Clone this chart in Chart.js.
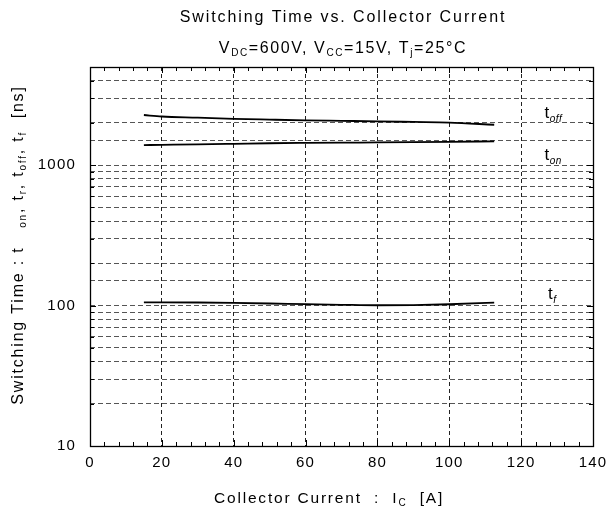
<!DOCTYPE html>
<html>
<head>
<meta charset="utf-8">
<script src="https://cdn.jsdelivr.net/npm/chart.js@4.4.1/dist/chart.umd.min.js"></script>
<style>
  html, body { margin: 0; padding: 0; background: #fff; }
  canvas { display: block; }
</style>
</head>
<body>
<canvas id="c" width="608" height="518"></canvas>
<script>
// ---- data ----
const currentA = [15, 20, 30, 40, 50, 60, 70, 80, 90, 100, 112.5];
const tOff = [2276, 2220, 2180, 2138, 2110, 2085, 2068, 2051, 2030, 2009, 1940];
const tOn  = [1390, 1395, 1405, 1418, 1432, 1440, 1446, 1451, 1458, 1466, 1477];
const tF   = [105.5, 105.5, 105.2, 104.5, 103.5, 102.3, 101.3, 100.5, 100.8, 102.2, 105.0];
const xTicks = [0, 20, 40, 60, 80, 100, 120, 140];
const yTickLabels = [10, 100, 1000];
const curveLabels = [
  { main: 't', sub: 'off', x: 126.5, y: 2166 },
  { main: 't', sub: 'on',  x: 126.5, y: 1086 },
  { main: 't', sub: 'f',   x: 127.5, y: 112 }
];

const FONT = '"Liberation Sans", Arial, sans-serif';

function pts(ys) { return currentA.map((x, i) => ({ x: x, y: ys[i] })); }

function richWidth(ctx, parts, size, subSize, ls) {
  let w = 0;
  for (const p of parts) {
    ctx.font = (p.it ? 'italic ' : '') + (p.sub ? subSize : size) + 'px ' + FONT;
    ctx.letterSpacing = ls + 'px';
    w += ctx.measureText(p.t).width;
  }
  return w;
}
function drawRich(ctx, parts, x, y, align, size, subSize, ls, subDy) {
  const w = richWidth(ctx, parts, size, subSize, ls);
  let cx = align === 'center' ? x - w / 2 : (align === 'right' ? x - w : x);
  ctx.textAlign = 'left';
  ctx.textBaseline = 'alphabetic';
  ctx.fillStyle = '#000';
  for (const p of parts) {
    ctx.font = (p.it ? 'italic ' : '') + (p.sub ? subSize : size) + 'px ' + FONT;
    ctx.letterSpacing = ls + 'px';
    ctx.fillText(p.t, cx, p.sub ? y + subDy : y);
    cx += ctx.measureText(p.t).width;
  }
}

const decor = {
  id: 'decor',
  beforeDraw(chart) {
    chart.ctx.letterSpacing = '1.2px';
  },
  afterDraw(chart) {
    const ctx = chart.ctx;
    const a = chart.chartArea;
    const xs = chart.scales.x, ys = chart.scales.y;
    ctx.save();
    // minor ticks (inward) on all four sides
    ctx.strokeStyle = '#000';
    ctx.lineWidth = 1;
    ctx.setLineDash([]);
    ctx.beginPath();
    for (let v = 0; v <= 140; v += 4) {
      const px = Math.round(xs.getPixelForValue(v)) + 0.5;
      const len = (v % 20 === 0) ? 6 : 4;
      ctx.moveTo(px, a.bottom); ctx.lineTo(px, a.bottom - len);
      ctx.moveTo(px, a.top); ctx.lineTo(px, a.top + len);
    }
    for (let d = 10; d <= 1000; d *= 10) {
      for (let m = 1; m <= 9; m++) {
        const v = d * m;
        if (v > 5000) break;
        const py = Math.round(ys.getPixelForValue(v)) + 0.5;
        const len = m === 1 ? 6 : 4;
        ctx.moveTo(a.left, py); ctx.lineTo(a.left + len, py);
        ctx.moveTo(a.right, py); ctx.lineTo(a.right - len, py);
      }
    }
    ctx.stroke();
    // frame
    ctx.lineWidth = 1.3;
    ctx.strokeRect(Math.round(a.left) + 0.5, Math.round(a.top) + 0.5,
                   Math.round(a.right - a.left), Math.round(a.bottom - a.top));

    // titles
    const cxPlot = 343;
    drawRich(ctx, [{ t: 'Switching Time vs. Collector Current' }], cxPlot, 22, 'center', 16, 10, 1.9, 0);
    drawRich(ctx, [
      { t: 'V' }, { t: 'DC', sub: true }, { t: '=600V, V' }, { t: 'CC', sub: true },
      { t: '=15V, T' }, { t: 'j', sub: true }, { t: '=25°C' }
    ], cxPlot, 53, 'center', 16, 10, 1.6, 3);
    drawRich(ctx, [
      { t: 'Collector Current  :  I' }, { t: 'C', sub: true }, { t: '  [A]' }
    ], 329, 503, 'center', 15.5, 10, 1.8, 3);

    // y axis title (rotated)
    ctx.save();
    ctx.translate(23, 245);
    ctx.rotate(-Math.PI / 2);
    drawRich(ctx, [
      { t: 'Switching Time : t' }, { t: '   ' }, { t: 'on', sub: true }, { t: ', t' },
      { t: 'r', sub: true }, { t: ', t' }, { t: 'off', sub: true }, { t: ', t' },
      { t: 'f', sub: true }, { t: '  [ns]' }
    ], 0, 0, 'center', 16, 10, 1.8, 3);
    ctx.restore();

    // curve labels
    for (const c of curveLabels) {
      const px = xs.getPixelForValue(c.x);
      const py = ys.getPixelForValue(c.y);
      drawRich(ctx, [{ t: c.main }, { t: c.sub, sub: true, it: true }], px, py, 'left', 17, 10, 0.5, 4);
    }
    ctx.restore();
  }
};

const tickFont = { family: FONT, size: 15 };

new Chart(document.getElementById('c'), {
  type: 'line',
  data: {
    datasets: [
      { label: 't_off', data: pts(tOff) },
      { label: 't_on', data: pts(tOn) },
      { label: 't_f', data: pts(tF) }
    ].map(d => Object.assign(d, {
      borderColor: '#000', borderWidth: 1.8, pointRadius: 0,
      tension: 0.3, cubicInterpolationMode: 'monotone', fill: false
    }))
  },
  options: {
    responsive: false,
    animation: false,
    devicePixelRatio: 1,
    layout: { padding: { top: 67, right: 15, left: 0, bottom: 0 } },
    plugins: { legend: { display: false }, title: { display: false }, tooltip: { enabled: false } },
    scales: {
      x: {
        type: 'linear', min: 0, max: 140,
        afterBuildTicks(s) { s.ticks = xTicks.map(v => ({ value: v })); },
        ticks: { color: '#000', font: tickFont, padding: 8, maxRotation: 0, autoSkip: false },
        grid: { color: '#222', lineWidth: 1, drawTicks: false },
        border: { display: false, dash: [4, 3] },
        afterFit(s) { s.height = 72; s.paddingLeft = 0; s.paddingRight = 0; }
      },
      y: {
        type: 'logarithmic', min: 10, max: 5000,
        ticks: {
          color: '#000', font: tickFont, padding: 14, autoSkip: false,
          callback(v) { return yTickLabels.includes(v) ? String(v) : ''; }
        },
        grid: { color: '#555', lineWidth: 1, drawTicks: false },
        border: { display: false, dash: [5, 3] },
        afterFit(s) { s.width = 90; s.paddingTop = 0; s.paddingBottom = 0; }
      }
    }
  },
  plugins: [decor]
});
</script>
</body>
</html>
